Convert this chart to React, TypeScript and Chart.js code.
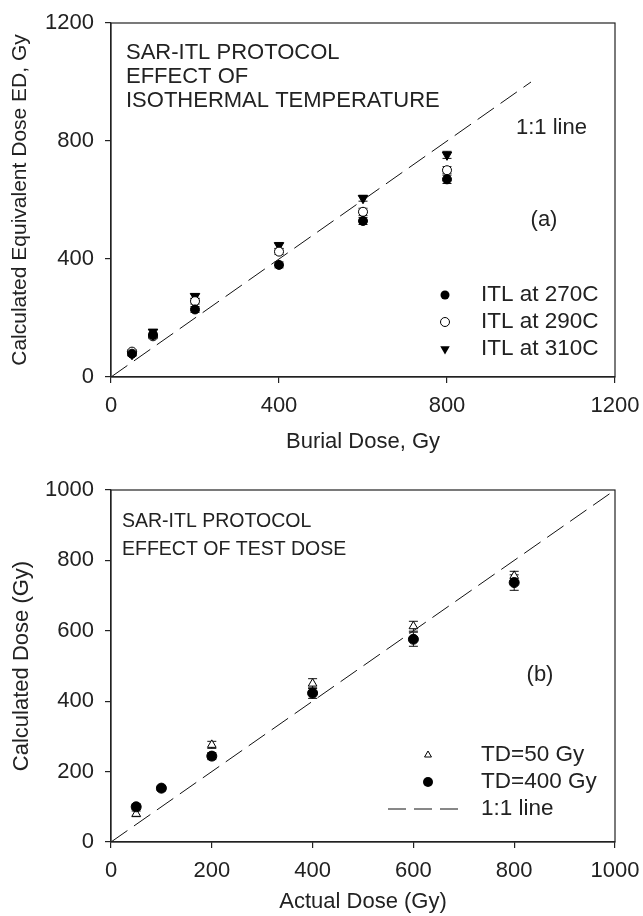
import React, { useEffect, useRef } from 'react';
import { Chart, registerables } from 'chart.js';

Chart.register(...registerables);

const FONT = '"Liberation Sans", Arial, Helvetica, sans-serif';
const INK = '#222';

// ---------- Panel (a) ----------
const burialDose = [50, 100, 200, 400, 600, 800];
const itl270 = [79, 142, 229, 380, 529, 670];
const itl290 = [86, 138, 257, 425, 560, 701];
const itl310 = [77, 153, 274, 446, 606, 753];
const itl270Err = [6, 8, 10, 10, 12, 14];
const itl290Err = [6, 8, 10, 10, 12, 12];
const itl310Err = [6, 8, 8, 10, 10, 12];
const aXTicks = [0, 400, 800, 1200];
const aYTicks = [0, 400, 800, 1200];
const aLegend = ['ITL at 270C', 'ITL at 290C', 'ITL at 310C'];
const aNotes = ['SAR-ITL PROTOCOL', 'EFFECT OF', 'ISOTHERMAL TEMPERATURE'];

// ---------- Panel (b) ----------
const actualDose = [50, 100, 200, 400, 600, 800];
const td50 = [80, 152, 276, 450, 613, 756];
const td400 = [100, 153, 244, 423, 576, 737];
const td50Err = [8, 6, 10, 14, 14, 13];
const td400Err = [8, 6, 10, 15, 20, 22];
const bXTicks = [0, 200, 400, 600, 800, 1000];
const bYTicks = [0, 200, 400, 600, 800, 1000];
const bLegend = ['TD=50 Gy', 'TD=400 Gy', '1:1 line'];
const bNotes = ['SAR-ITL PROTOCOL', 'EFFECT OF TEST DOSE'];

// 1:1 reference line
const unityX = [0, 1000];
const unityY = [0, 1000];

const pts = (xs: number[], ys: number[]) => xs.map((x, i) => ({ x, y: ys[i] }));

type Marker = 'filledCircle' | 'openCircle' | 'triDown' | 'triUp' | 'dash';

function drawMarker(ctx: CanvasRenderingContext2D, kind: Marker, x: number, y: number, r: number) {
  ctx.save();
  ctx.lineWidth = 1;
  ctx.strokeStyle = '#000';
  ctx.fillStyle = '#000';
  ctx.beginPath();
  if (kind === 'filledCircle' || kind === 'openCircle') {
    ctx.arc(x, y, r, 0, Math.PI * 2);
    if (kind === 'openCircle') {
      ctx.fillStyle = '#fff';
      ctx.fill();
      ctx.stroke();
    } else ctx.fill();
  } else if (kind === 'triDown' || kind === 'triUp') {
    const s = kind === 'triDown' ? -1 : 1;
    ctx.moveTo(x, y - s * r);
    ctx.lineTo(x + r * 0.866, y + s * r * 0.5);
    ctx.lineTo(x - r * 0.866, y + s * r * 0.5);
    ctx.closePath();
    if (kind === 'triUp') {
      ctx.fillStyle = '#fff';
      ctx.fill();
      ctx.stroke();
    } else ctx.fill();
  }
  ctx.restore();
}

interface NoteSpec { text: string; dx: number; dy: number; size: number; align: CanvasTextAlign }
interface LegendSpec { text: string; marker: Marker; r: number }
interface PanelOpts {
  notes: NoteSpec[];
  legend: LegendSpec[];
  legendMarkerX: number;
  legendTextX: number;
  legendTop: number;
  legendStep: number;
  legendSize: number;
}

const panelPlugin = {
  id: 'panelDecor',
  beforeDatasetsDraw(chart: any) {
    const ctx = chart.ctx as CanvasRenderingContext2D;
    const xs = chart.scales.x;
    const ys = chart.scales.y;
    ctx.save();
    ctx.strokeStyle = '#111';
    ctx.lineWidth = 1;
    chart.data.datasets.forEach((ds: any) => {
      if (!ds.errors) return;
      ds.data.forEach((p: any, j: number) => {
        const e = ds.errors[j];
        const x = xs.getPixelForValue(p.x);
        const y1 = ys.getPixelForValue(p.y - e);
        const y2 = ys.getPixelForValue(p.y + e);
        const cw = 4.5;
        ctx.beginPath();
        ctx.moveTo(x, y1);
        ctx.lineTo(x, y2);
        ctx.moveTo(x - cw, y1);
        ctx.lineTo(x + cw, y1);
        ctx.moveTo(x - cw, y2);
        ctx.lineTo(x + cw, y2);
        ctx.stroke();
      });
    });
    ctx.restore();
  },
  afterDraw(chart: any) {
    const ctx = chart.ctx as CanvasRenderingContext2D;
    const ca = chart.chartArea;
    const o: PanelOpts = chart.options.plugins.panelDecor;
    ctx.save();
    ctx.strokeStyle = INK;
    ctx.lineWidth = 1.2;
    ctx.strokeRect(ca.left, ca.top, ca.right - ca.left, ca.bottom - ca.top);
    ctx.fillStyle = INK;
    ctx.textBaseline = 'middle';
    o.notes.forEach((n) => {
      ctx.font = `${n.size}px ${FONT}`;
      ctx.textAlign = n.align;
      ctx.fillText(n.text, ca.left + n.dx, ca.top + n.dy);
    });
    o.legend.forEach((l, i) => {
      const y = ca.top + o.legendTop + i * o.legendStep;
      if (l.marker === 'dash') {
        ctx.save();
        ctx.strokeStyle = '#111';
        ctx.lineWidth = 1;
        ctx.setLineDash([18, 8]);
        ctx.beginPath();
        ctx.moveTo(ca.left + o.legendMarkerX - 40, y);
        ctx.lineTo(ca.left + o.legendMarkerX + 30, y);
        ctx.stroke();
        ctx.restore();
      } else {
        drawMarker(ctx, l.marker, ca.left + o.legendMarkerX, y, l.r);
      }
      ctx.font = `${o.legendSize}px ${FONT}`;
      ctx.textAlign = 'left';
      ctx.fillStyle = INK;
      ctx.fillText(l.text, ca.left + o.legendTextX, y);
    });
    ctx.restore();
  },
};

function axis(opts: {
  ticks: number[]; title: string; horizontal: boolean; fit: number;
  tickPad: number; titlePad: any; titleSize: number;
}) {
  return {
    type: 'linear',
    min: opts.ticks[0],
    max: opts.ticks[opts.ticks.length - 1],
    afterBuildTicks: (s: any) => { s.ticks = opts.ticks.map((v) => ({ value: v })); },
    afterFit: (s: any) => {
      if (opts.horizontal) s.height = opts.fit; else s.width = opts.fit;
      s.paddingLeft = 0;
      s.paddingRight = 0;
      s.paddingTop = 0;
      s.paddingBottom = 0;
    },
    ticks: {
      color: INK,
      font: { family: FONT, size: 22 },
      padding: opts.tickPad,
      autoSkip: false,
      maxRotation: 0,
      callback: (v: any) => String(v),
    },
    grid: { display: true, drawOnChartArea: false, drawTicks: true, tickLength: 6, color: INK, lineWidth: 1.2 },
    border: { display: true, color: INK, width: 1.2 },
    title: { display: true, text: opts.title, color: INK, font: { family: FONT, size: opts.titleSize }, padding: opts.titlePad },
  };
}

function unityDataset() {
  return {
    label: '1:1 line',
    data: pts(unityX, unityY),
    showLine: true,
    borderColor: '#111',
    borderWidth: 1,
    borderDash: [20, 8],
    pointRadius: 0,
    fill: false,
    order: 10,
  };
}

function buildA(canvas: HTMLCanvasElement) {
  return new Chart(canvas, {
    type: 'scatter',
    data: {
      datasets: [
        { label: aLegend[0], data: pts(burialDose, itl270), errors: itl270Err, pointStyle: 'circle', pointRadius: 4.5, pointBackgroundColor: '#000', pointBorderColor: '#000', pointBorderWidth: 1, order: 1 } as any,
        { label: aLegend[1], data: pts(burialDose, itl290), errors: itl290Err, pointStyle: 'circle', pointRadius: 4.5, pointBackgroundColor: '#fff', pointBorderColor: '#000', pointBorderWidth: 1, order: 2 } as any,
        { label: aLegend[2], data: pts(burialDose, itl310), errors: itl310Err, pointStyle: 'triangle', rotation: 180, pointRotation: 180, pointRadius: 5.5, pointBackgroundColor: '#000', pointBorderColor: '#000', pointBorderWidth: 1, order: 3 } as any,
        unityDataset() as any,
      ],
    },
    options: {
      responsive: false,
      animation: false,
      devicePixelRatio: 1,
      layout: { padding: { top: 23, right: 28, left: 0, bottom: 0 } },
      plugins: {
        legend: { display: false },
        tooltip: { enabled: false },
        panelDecor: {
          notes: [
            { text: aNotes[0], dx: 15, dy: 29.5, size: 22, align: 'left' },
            { text: aNotes[1], dx: 15, dy: 53.5, size: 22, align: 'left' },
            { text: aNotes[2], dx: 15, dy: 78, size: 22, align: 'left' },
            { text: '1:1 line', dx: 405, dy: 105, size: 22, align: 'left' },
            { text: '(a)', dx: 433, dy: 197, size: 22, align: 'center' },
          ],
          legend: [
            { text: aLegend[0], marker: 'filledCircle', r: 4.5 },
            { text: aLegend[1], marker: 'openCircle', r: 4.5 },
            { text: aLegend[2], marker: 'triDown', r: 5.5 },
          ],
          legendMarkerX: 334,
          legendTextX: 370,
          legendTop: 272,
          legendStep: 27,
          legendSize: 22.5,
        },
      } as any,
      scales: {
        x: axis({ ticks: aXTicks, title: 'Burial Dose, Gy', horizontal: true, fit: 81, tickPad: 10, titlePad: { top: 0, bottom: 3 }, titleSize: 22 }),
        y: axis({ ticks: aYTicks, title: 'Calculated Equivalent Dose ED, Gy', horizontal: false, fit: 111, tickPad: 11, titlePad: { top: 8, bottom: 0 }, titleSize: 21 }),
      } as any,
    },
    plugins: [panelPlugin],
  } as any);
}

function buildB(canvas: HTMLCanvasElement) {
  return new Chart(canvas, {
    type: 'scatter',
    data: {
      datasets: [
        { label: bLegend[1], data: pts(actualDose, td400), errors: td400Err, pointStyle: 'circle', pointRadius: 5, pointBackgroundColor: '#000', pointBorderColor: '#000', pointBorderWidth: 1, order: 1 } as any,
        { label: bLegend[0], data: pts(actualDose, td50), errors: td50Err, pointStyle: 'triangle', pointRadius: 5, pointBackgroundColor: '#fff', pointBorderColor: '#000', pointBorderWidth: 1, order: 2 } as any,
        unityDataset() as any,
      ],
    },
    options: {
      responsive: false,
      animation: false,
      devicePixelRatio: 1,
      layout: { padding: { top: 32, right: 28, left: 0, bottom: 0 } },
      plugins: {
        legend: { display: false },
        tooltip: { enabled: false },
        panelDecor: {
          notes: [
            { text: bNotes[0], dx: 11, dy: 32, size: 19.5, align: 'left' },
            { text: bNotes[1], dx: 11, dy: 60, size: 19.5, align: 'left' },
            { text: '(b)', dx: 429, dy: 185, size: 22, align: 'center' },
          ],
          legend: [
            { text: bLegend[0], marker: 'triUp', r: 4 },
            { text: bLegend[1], marker: 'filledCircle', r: 5 },
            { text: bLegend[2], marker: 'dash', r: 0 },
          ],
          legendMarkerX: 317,
          legendTextX: 370,
          legendTop: 265,
          legendStep: 27,
          legendSize: 22.5,
        },
      } as any,
      scales: {
        x: axis({ ticks: bXTicks, title: 'Actual Dose (Gy)', horizontal: true, fit: 74, tickPad: 10, titlePad: { top: 0, bottom: 1 }, titleSize: 22 }),
        y: axis({ ticks: bYTicks, title: 'Calculated Dose (Gy)', horizontal: false, fit: 111, tickPad: 11, titlePad: { top: 9, bottom: 0 }, titleSize: 22 }),
      } as any,
    },
    plugins: [panelPlugin],
  } as any);
}

export default function App() {
  const refA = useRef<HTMLCanvasElement | null>(null);
  const refB = useRef<HTMLCanvasElement | null>(null);

  useEffect(() => {
    const a = refA.current ? buildA(refA.current) : null;
    const b = refB.current ? buildB(refB.current) : null;
    return () => {
      a?.destroy();
      b?.destroy();
    };
  }, []);

  return (
    <div style={{ position: 'absolute', left: 0, top: 0, width: 643, height: 916, background: '#fff' }}>
      <canvas ref={refA} width={643} height={458} style={{ position: 'absolute', left: 0, top: 0, width: 643, height: 458 }} />
      <canvas ref={refB} width={643} height={458} style={{ position: 'absolute', left: 0, top: 458, width: 643, height: 458 }} />
    </div>
  );
}
